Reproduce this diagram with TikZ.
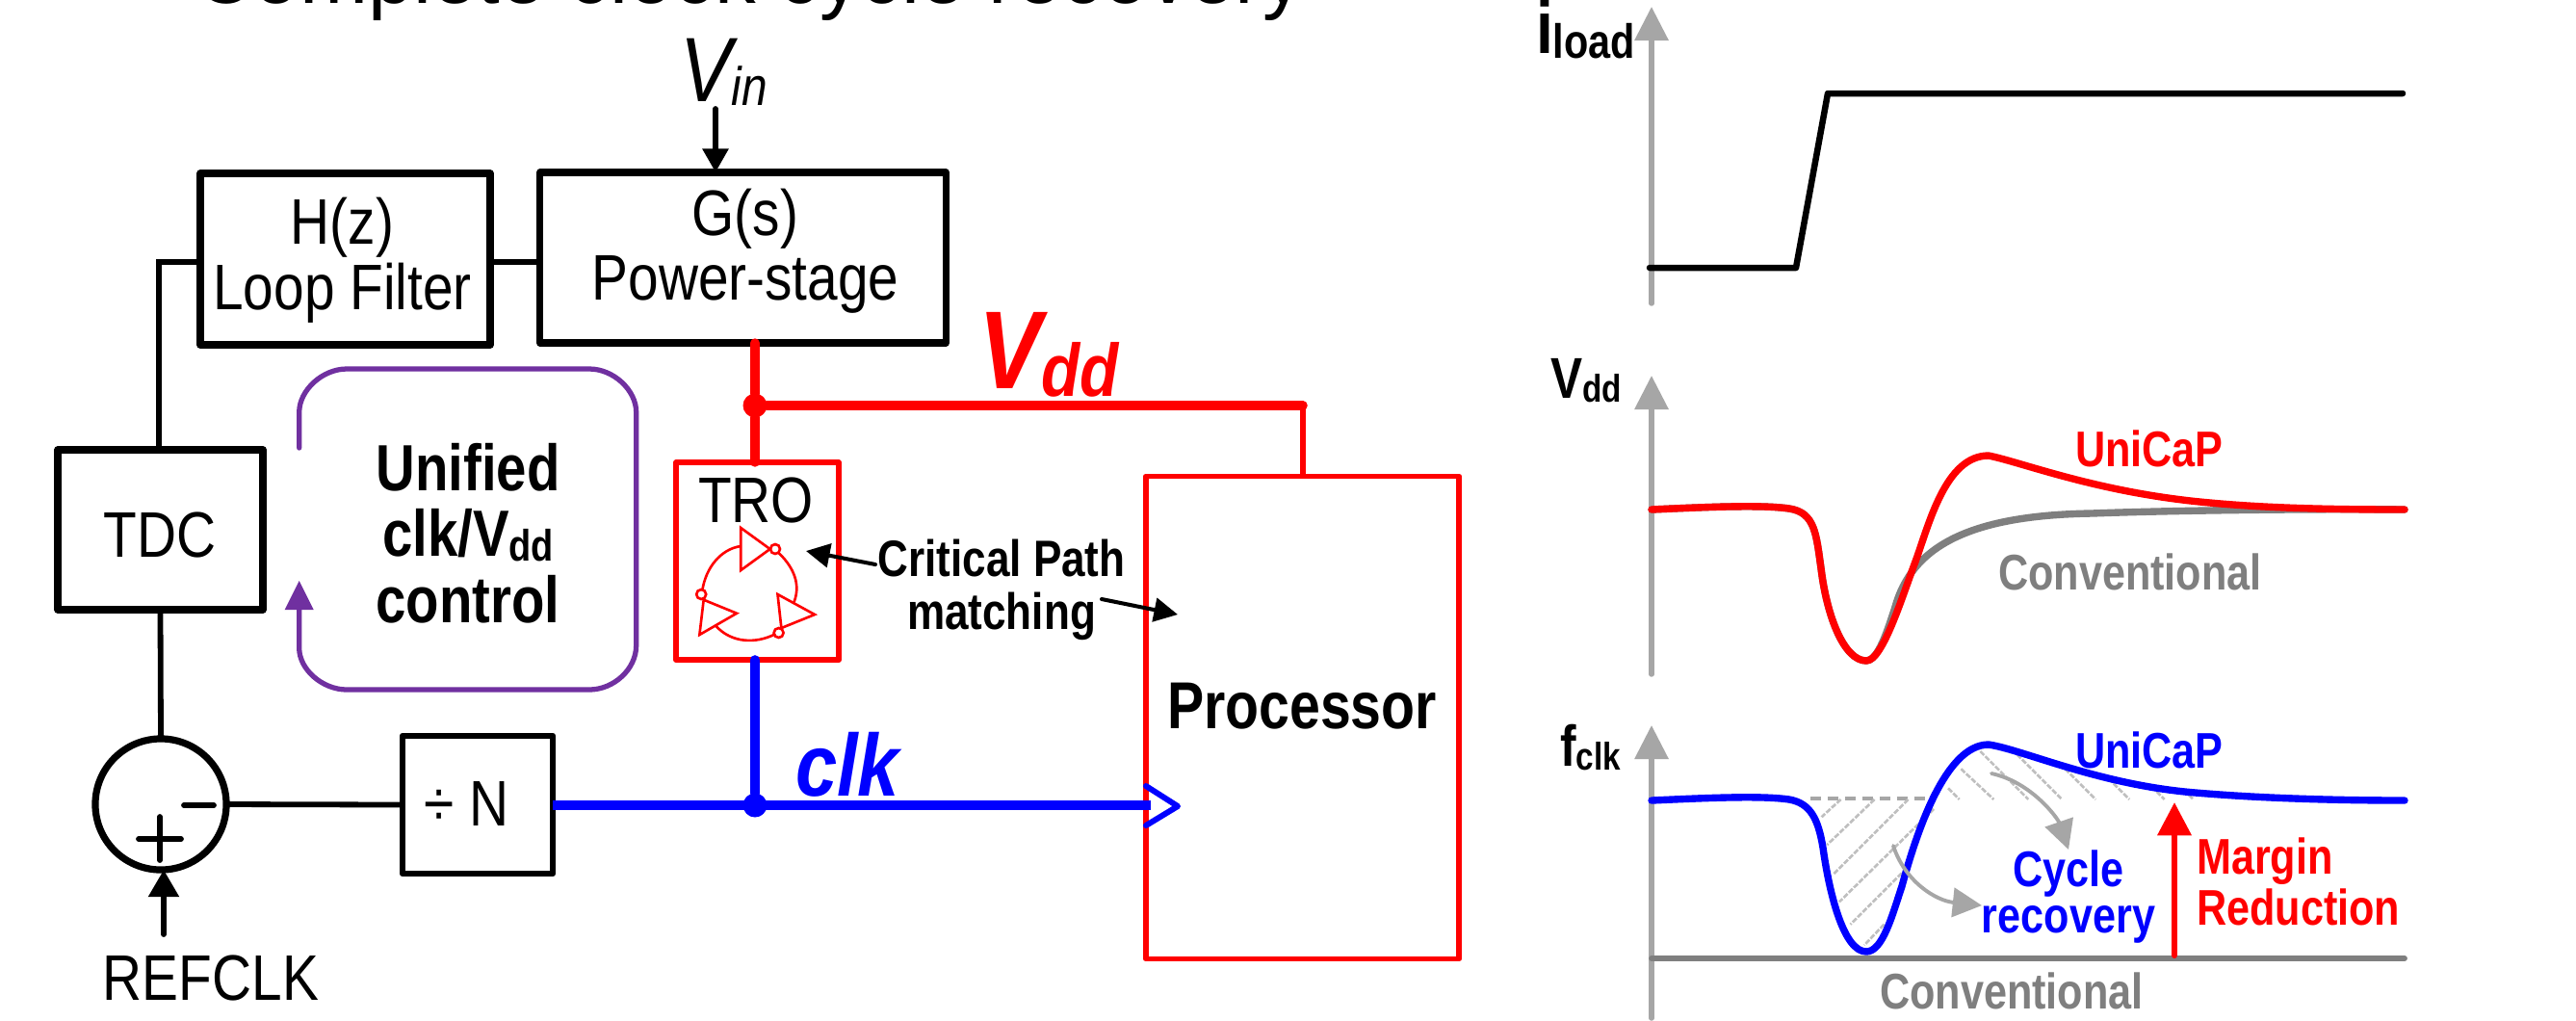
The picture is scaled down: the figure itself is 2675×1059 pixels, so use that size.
\documentclass[tikz,border=0pt]{standalone}
\usepackage{fontspec}
\usetikzlibrary{arrows.meta}
\setmainfont{Liberation Sans}[FakeStretch=0.85,BoldFeatures={FakeStretch=0.83}]
\newfontfamily\titlefont{Liberation Sans}[FakeStretch=0.98]
\newcommand{\fsz}[1]{\fontsize{#1}{#1}\selectfont}
\newcommand{\lowsub}[2]{\raisebox{-1.4pt}{\fsz{#1}#2}}
\definecolor{axisgray}{HTML}{A6A6A6}
\definecolor{convgray}{HTML}{7F7F7F}
\definecolor{hatchgray}{HTML}{BFBFBF}
\definecolor{ctrlpurple}{HTML}{7030A0}
\definecolor{pureblue}{HTML}{0000FF}
\definecolor{purered}{HTML}{FF0000}
\tikzset{
  blackbox/.style={draw=black,line width=2.05pt,line join=round,inner sep=0pt,outer sep=0pt},
  redbox/.style={draw=purered,line width=1.6pt,line join=round,inner sep=0pt,outer sep=0pt},
  wire/.style={draw=black,line width=1.65pt,line cap=round},
  redwire/.style={draw=purered,line width=2.7pt,line cap=round},
  bluewire/.style={draw=pureblue,line width=2.8pt,line cap=round},
  dot/.style={circle,inner sep=0pt,outer sep=0pt,minimum size=7.1pt},
  lbl/.style={inner sep=0pt,outer sep=0pt,anchor=base},
  lblw/.style={inner sep=0pt,outer sep=0pt,anchor=base west},
  reg/.style={lbl,font=\fsz{19}},
  chartbold/.style={lblw,font=\fsz{14.8}\bfseries},
  axis/.style={draw=axisgray,line width=1.55pt,line cap=round,-{Triangle[length=10pt,width=9.8pt]}},
  curve/.style={line width=2.1pt,line cap=round,line join=round},
  inv/.style={draw=purered,line width=0.75pt,line join=miter},
  hatch/.style={draw=hatchgray,line width=0.75pt,dash pattern=on 1.6pt off 0.5pt},
  grayarrow/.style={draw=axisgray,line width=1.1pt,line cap=round,-{Triangle[length=8.6pt,width=8.6pt]}},
  ctrl/.style={draw=ctrlpurple,line width=1.5pt,line cap=round}
}
\begin{document}
\begin{tikzpicture}[x=0.01cm,y=-0.01cm]
\useasboundingbox (0,0) rectangle (2675,1059);
\clip (0,0) rectangle (2675,1059);
\fill[white] (0,0) rectangle (2675,1059);

% title (cut by the top edge)
\node[lbl,font=\titlefont\fsz{24.75}] (title) at (778,3) {Complete clock cycle recovery};

% control loop blocks
\node[blackbox,minimum width=3.01cm,minimum height=1.78cm] (hz) at (358.5,269) {};
\node[blackbox,minimum width=4.21cm,minimum height=1.77cm] (gs) at (771.5,267.5) {};
\node[blackbox,minimum width=2.13cm,minimum height=1.66cm] (tdc) at (166.5,550) {};
\node[blackbox,line width=1.8pt,minimum width=1.56cm,minimum height=1.43cm] (div) at (496,835.5) {};
\node[blackbox,circle,minimum size=1.36cm] (sum) at (167,835) {};
\node[redbox,minimum width=1.69cm,minimum height=2.05cm] (tro) at (786.5,582.5) {};
\node[redbox,minimum width=3.25cm,minimum height=5.01cm] (proc) at (1352.5,745) {};

% box text
\node[lbl,align=center,font=\fontsize{19}{19.2}\selectfont] (hztext) at (355.5,321) {H(z)\\Loop Filter};
\node[lbl,align=center,font=\fontsize{19}{19}\selectfont] (gstext) at (774,311) {G(s)\\Power-stage};
\node[reg] (tdctext) at (166,578) {TDC};
\node[reg] (divtext) at (484.5,857) {÷ N};
\node[reg] (trotext) at (785,542) {TRO};
\node[lbl,font=\fsz{19.6}\bfseries] (proctext) at (1352,756) {Processor};
\node[reg] (refclk) at (219,1038) {REFCLK};
\node[lblw] (vin) at (706,105) {\fsz{27}\itshape V\lowsub{16}{in}};
\node[lblw,text=purered] (vddlabel) at (1016,403) {\fsz{32.7}\bfseries\itshape V\raisebox{-2.5pt}{\fsz{22}dd}};
\node[lblw,text=pureblue,font=\fsz{26}\bfseries\itshape] (clklabel) at (826,826) {clk};

% black wiring
\coordinate (vinstart) at (743,113);
\coordinate (refstart) at (170,970);
\coordinate (hzcorner) at (165,272);
\draw[wire,-{Triangle[length=7pt,width=7.4pt]}] (vinstart) -- (vinstart |- gs.north);
\draw[wire] (hz.west |- hzcorner) -- (hzcorner) -- (hzcorner |- tdc.north);
\draw[wire] (hz.east |- hzcorner) -- (gs.west |- hzcorner);
\draw[wire] (tdc.south) -- (sum.north);
\draw[wire] (sum.east) -- (div.west);
\draw[wire,-{Triangle[length=8pt,width=8.8pt]}] (refstart) -- (refstart |- sum.south);
\coordinate (minusl) at (191,836);
\coordinate (minusr) at (222,836);
\coordinate (plusl) at (144,871);
\coordinate (plusr) at (188,871);
\coordinate (plust) at (166,848);
\coordinate (plusb) at (166,893);
\draw[wire] (minusl) -- (minusr);
\draw[wire] (plusl) -- (plusr);
\draw[wire] (plust) -- (plusb);

% Vdd net
\node[dot,fill=purered] (vj) at (784,421) {};
\coordinate (vcorner) at (1353,421);
\draw[redwire] (vj |- gs.south) -- (vj) -- (vj |- tro.north);
\draw[redwire] (vj) -- (vcorner);
\draw[draw=purered,line width=1.7pt] (vcorner) -- (vcorner |- proc.north);

% clk net
\node[dot,fill=pureblue] (cj) at (784,836) {};
\coordinate (clkend) at (1195,836);
\coordinate (chevt) at (1190,816);
\coordinate (chevm) at (1223,837);
\coordinate (chevb) at (1190,857);
\draw[draw=pureblue,line width=2.8pt] (div.east |- cj) -- (clkend);
\draw[bluewire] (cj |- tro.south) -- (cj);
\draw[draw=pureblue,line width=1.7pt,line cap=round,line join=round] (chevt) -- (chevm) -- (chevb);

% TRO ring icon
\draw[inv] (769.3,548) -- (769.3,592) -- (799.6,570) -- cycle;
\draw[inv] (807.5,617) -- (846,638) -- (811.4,652) -- cycle;
\draw[inv] (726.4,659) -- (730.7,622.7) -- (765,636.7) -- cycle;
\draw[inv,fill=white] (805,570) circle (5);
\draw[inv,fill=white] (808.6,657) circle (5);
\draw[inv,fill=white] (728.2,617) circle (5);
\draw[inv] (808.6,574) .. controls (820,585) and (833,603) .. (824.6,625);
\draw[inv] (803.5,659) .. controls (785,668) and (760,668) .. (743.6,650);
\draw[inv] (729.5,612) .. controls (733,590) and (748,570) .. (769.3,567);

% critical path annotation
\node[lbl,align=center,font=\fontsize{15.1}{15.4}\selectfont\bfseries] (cpm) at (1040,653) {Critical Path\\matching};
\coordinate (cps1) at (909,586);
\coordinate (cpt1) at (837,572);
\coordinate (cps2) at (1144,622);
\coordinate (cpt2) at (1223,638);
\draw[wire,line width=1.15pt,-{Triangle[length=7pt,width=7pt]}] (cps1) -- (cpt1);
\draw[wire,line width=1.15pt,-{Triangle[length=7pt,width=7pt]}] (cps2) -- (cpt2);

% unified control loop
\node[lbl,align=center,font=\fontsize{19.3}{19.4}\selectfont\bfseries] (unified) at (486,646) {Unified\\clk/V\lowsub{13}{dd}\\control};
\draw[ctrl] (310.7,465) -- (310.7,428) .. controls (310.7,405) and (335,383) .. (360,383) -- (612,383) .. controls (637,383) and (660.7,405) .. (660.7,428) -- (660.7,670) .. controls (660.7,695) and (637,716) .. (612,716) -- (360,716) .. controls (335,716) and (310.7,695) .. (310.7,673) -- (310.7,633);
\fill[ctrlpurple] (310.7,603) -- (325.7,633) -- (295.7,633) -- cycle;

% i_load chart
\coordinate (ia0) at (1715,315);
\coordinate (ia1) at (1715,7);
\draw[axis] (ia0) -- (ia1);
\draw[curve,line width=1.85pt,draw=black] (1713,278) -- (1865,278) -- (1898,97) -- (2495,97);
\node[lblw] (iload) at (1595,55) {\fsz{22}\bfseries i\raisebox{-1.7pt}{\fsz{14.2}load}};

% Vdd chart
\coordinate (va0) at (1715,700);
\coordinate (va1) at (1715,390);
\draw[axis] (va0) -- (va1);
\draw[curve,draw=convgray] (1715,529) .. controls (1780,526) and (1830,524) .. (1858,528)
  .. controls (1885,532) and (1886,555) .. (1891,590)
  .. controls (1897,640) and (1915,686) .. (1938,686)
  .. controls (1950,686) and (1960,655) .. (1968,630)
  .. controls (1985,570) and (2040,535) .. (2172,533)
  .. controls (2250,530) and (2400,528) .. (2497,529);
\draw[curve,draw=purered] (1715,529) .. controls (1780,526) and (1830,524) .. (1858,528)
  .. controls (1885,532) and (1886,555) .. (1891,590)
  .. controls (1897,640) and (1915,686) .. (1938,686)
  .. controls (1955,686) and (1975,620) .. (1989,583)
  .. controls (2003,545) and (2020,473) .. (2065,473)
  .. controls (2100,480) and (2180,512) .. (2295,522)
  .. controls (2360,528) and (2430,529) .. (2497,529);
\node[lblw] (vddaxis) at (1610,413) {\fsz{17}\bfseries V\lowsub{11.4}{dd}};
\node[chartbold,text=purered] (unicap1) at (2155,484) {UniCaP};
\node[chartbold,text=convgray] (conv1) at (2075,612) {Conventional};

% f_clk chart
\coordinate (fa0) at (1715,1057);
\coordinate (fa1) at (1715,753);
\draw[axis] (fa0) -- (fa1);
\draw[draw=axisgray,line width=1pt,dash pattern=on 3.1pt off 2pt] (1880,829) -- (2010,829);
\begin{scope}[shift={(1860,760)},x=0.0033333cm,y=-0.0033333cm]
\foreach \a/\b/\c/\d in {155/210/95/265,260/210/112/352,365/210/130/445,445/240/150/530,345/440/185/600,290/600/228/665}
  \draw[hatch] (\a,\b) -- (\c,\d);
\foreach \a/\b/\c/\d in {490/175/525/210,530/115/632/210,590/60/740/210,705/70/845/210,855/115/950/210,990/145/1055/210,1125/170/1165/210,1225/180/1255/210}
  \draw[hatch] (\a,\b) -- (\c,\d);
\end{scope}
\draw[curve,draw=convgray,line width=1.65pt] (1715,995) -- (2497,995);
\draw[curve,draw=pureblue] (1715,831) .. controls (1780,828) and (1830,826) .. (1858,830)
  .. controls (1880,834) and (1888,850) .. (1893,880)
  .. controls (1900,930) and (1915,988) .. (1938,988)
  .. controls (1955,988) and (1965,950) .. (1975,920)
  .. controls (1990,865) and (2020,773) .. (2065,773)
  .. controls (2100,778) and (2180,815) .. (2280,823)
  .. controls (2350,829) and (2430,831) .. (2497,831);
\draw[grayarrow] (2068,803) .. controls (2110,812) and (2137,850) .. (2148,882);
\draw[grayarrow] (1966,878) .. controls (1978,915) and (2010,935) .. (2058,940);
\coordinate (mr0) at (2258,992);
\coordinate (mr1) at (2258,833);
\draw[draw=purered,line width=1.7pt,line cap=round,-{Triangle[length=9.8pt,width=9.8pt]}] (mr0) -- (mr1);
\node[lblw] (fclkaxis) at (1620,795) {\fsz{17}\bfseries f\lowsub{11.4}{clk}};
\node[chartbold,text=pureblue] (unicap2) at (2155,797) {UniCaP};
\node[lbl,align=center,text=pureblue,font=\fontsize{14.8}{13.5}\selectfont\bfseries] (cycle) at (2148,968) {Cycle\\recovery};
\node[lblw,align=left,text=purered,font=\fontsize{14.8}{13.2}\selectfont\bfseries] (margin) at (2281,960) {Margin\\Reduction};
\node[chartbold,text=convgray] (conv2) at (1952,1047) {Conventional};
\end{tikzpicture}
\end{document}
